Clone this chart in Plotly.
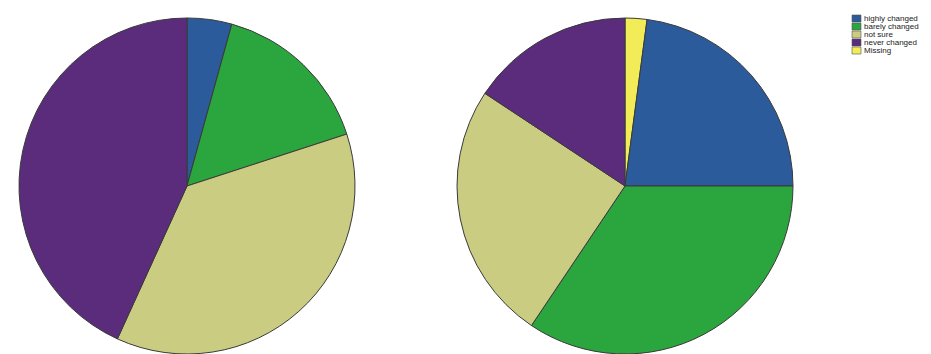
import plotly.graph_objects as go

W, H = 931, 354
T = 18  # top margin in px

# Data (percent of respondents)
left_labels = ["highly changed", "barely changed", "not sure", "never changed"]
left_values = [4.3, 15.7, 36.8, 43.2]

right_labels = ["Missing", "highly changed", "barely changed", "not sure", "never changed"]
right_values = [2.1, 22.9, 34.4, 24.9, 15.7]

legend_labels = ["highly changed", "barely changed", "not sure", "never changed", "Missing"]
colors = {
    "highly changed": "#2b5b9b",
    "barely changed": "#2ba53d",
    "not sure": "#cacc82",
    "never changed": "#5b2c7c",
    "Missing": "#f1ec58",
}

line = dict(color="#3a3a3a", width=1)

fig = go.Figure()
fig.add_trace(go.Pie(
    labels=left_labels, values=left_values, sort=False, direction="clockwise",
    rotation=0, textinfo="none", showlegend=False,
    marker=dict(colors=[colors[l] for l in left_labels], line=line),
    domain=dict(x=[19 / W, 355 / W], y=[0, 1]),
))
fig.add_trace(go.Pie(
    labels=right_labels, values=right_values, sort=False, direction="clockwise",
    rotation=0, textinfo="none", showlegend=False,
    marker=dict(colors=[colors[l] for l in right_labels], line=line),
    domain=dict(x=[457 / W, 793 / W], y=[0, 1]),
))


def py(px):
    """pixel row (from top of page) -> paper y"""
    return 1 - (px - T) / (H - T)


# Compact legend (box + label per category)
shapes, annotations = [], []
x0, y0, step, bw, bh = 852, 15, 8, 9, 7
for i, lab in enumerate(legend_labels):
    top = y0 + i * step
    shapes.append(dict(type="rect", xref="paper", yref="paper",
                       x0=x0 / W, x1=(x0 + bw) / W,
                       y0=py(top + bh), y1=py(top),
                       fillcolor=colors[lab], line=dict(color="#555", width=0.6)))
    annotations.append(dict(xref="paper", yref="paper", x=(x0 + bw + 1) / W,
                            y=py(top + bh / 2), text=lab, showarrow=False,
                            xanchor="left", yanchor="middle",
                            font=dict(family="Arial, Liberation Sans", size=8, color="#1a1a1a")))

fig.update_layout(
    width=W, height=H,
    margin=dict(l=0, r=0, t=T, b=0),
    paper_bgcolor="white", plot_bgcolor="white",
    shapes=shapes, annotations=annotations,
)
fig.write_html("out.html")
